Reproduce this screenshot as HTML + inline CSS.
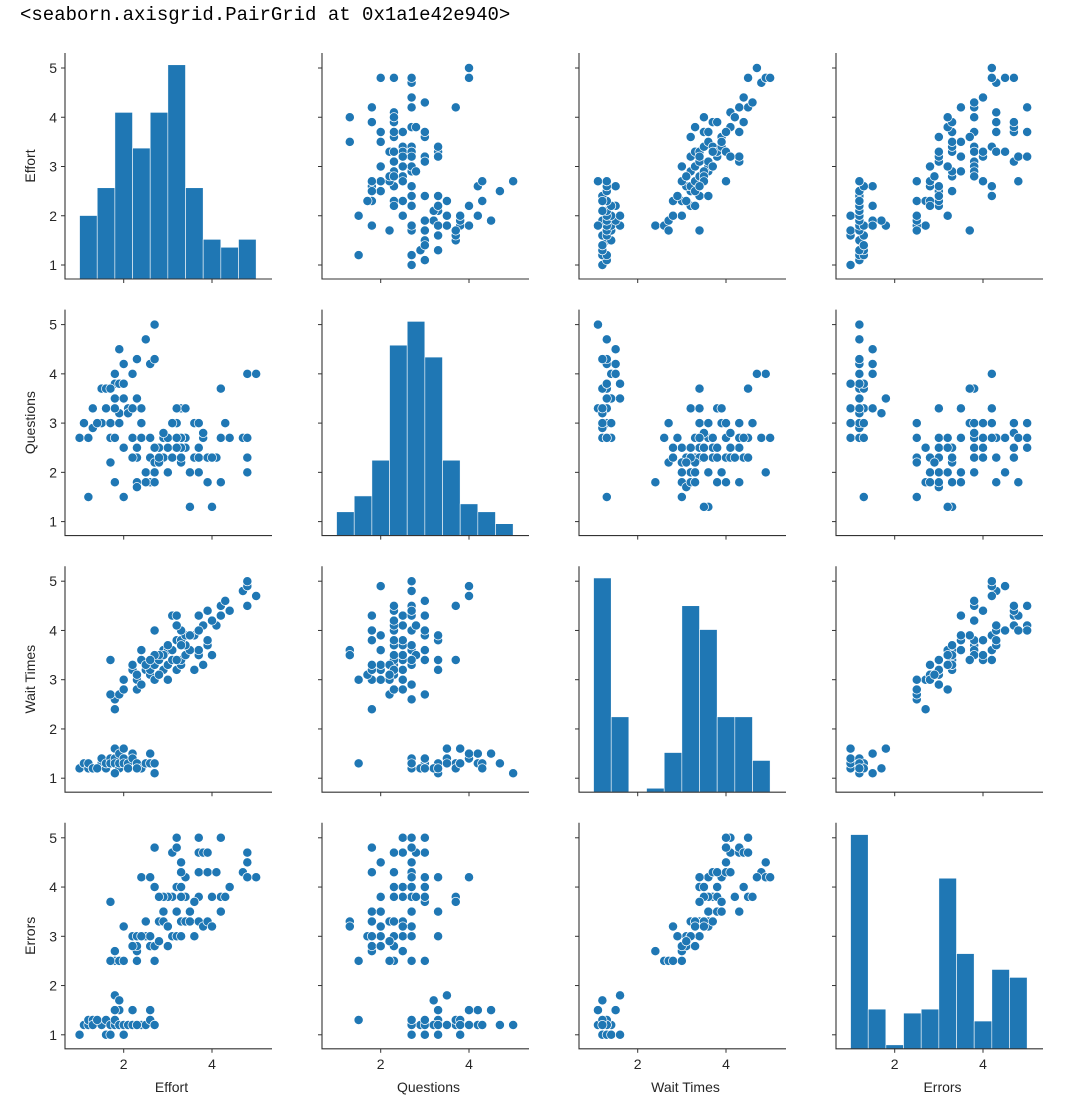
<!DOCTYPE html>
<html><head><meta charset="utf-8">
<style>
body{margin:0;background:#fff;width:1068px;height:1100px;overflow:hidden}
#repr{position:absolute;left:20px;top:4px;font-family:"Liberation Mono",monospace;font-size:19px;color:#000}
svg{position:absolute;left:0;top:0}
text{font-family:"Liberation Sans",sans-serif;fill:#262626}
</style></head><body>
<div id="repr">&lt;seaborn.axisgrid.PairGrid at 0x1a1e42e940&gt;</div>
<svg id="chart" width="1068" height="1100"></svg>
<script>
const variables = ["Effort","Questions","Wait Times","Errors"];
const xTicks = [2,4];
const yTicks = [1,2,3,4,5];
const binEdges = [1,1.4,1.8,2.2,2.6,3.0,3.4,3.8,4.2,4.6,5.0];
const histEffort = [16,23,42,33,42,54,23,10,8,10];
const histQuestions = [6,10,19,48,54,45,19,8,6,3];
const histWait = [54,19,0,1,10,47,41,19,19,8];
const histErrors = [54,10,1,9,10,43,24,7,20,18];
const lowClusterRows = [
[1.0,2.7,1.2,1.0],[1.1,3.0,1.3,1.2],[1.2,2.7,1.2,1.2],[1.2,1.5,1.3,1.3],[1.3,3.3,1.2,1.3],
[1.3,2.9,1.2,1.2],[1.5,3.7,1.3,1.2],[1.5,3.0,1.4,1.2],[1.6,3.7,1.2,1.3],[1.6,3.3,1.3,1.0],
[1.7,3.0,1.4,1.0],[1.7,2.7,1.3,1.2],[1.8,3.5,1.6,1.8],[1.8,4.0,1.4,1.2],[1.8,3.8,1.3,1.3],
[1.9,3.2,1.2,1.7],[1.9,4.5,1.5,1.5],[1.9,3.8,1.3,1.2],[1.8,3.3,1.1,1.5],[2.0,3.8,1.6,1.0],
[2.0,3.5,1.4,1.2],[2.0,4.2,1.3,1.2],[2.1,3.3,1.3,1.2],[2.1,3.2,1.2,1.2],[2.2,4.0,1.5,1.5],
[2.2,2.7,1.4,1.2],[2.3,3.5,1.3,1.2],[2.4,3.3,1.2,1.2],[2.5,4.7,1.3,1.2],[2.6,4.2,1.5,1.5],
[2.6,2.7,1.3,1.3],[2.7,5.0,1.1,1.2],[2.7,4.3,1.3,1.2],[1.4,3.0,1.2,1.3],[2.3,4.3,1.2,1.2]];
const highClusterRows = [
[1.8,1.8,2.4,2.7],[1.8,2.7,2.6,2.5],[1.7,2.2,2.7,2.5],[1.9,3.0,2.7,2.5],[2.0,1.5,3.0,2.5],
[2.3,2.3,2.8,2.5],[2.3,2.5,3.0,2.7],[2.3,1.8,3.0,2.8],[2.2,3.3,3.2,3.0],[2.2,2.3,3.3,2.8],
[2.3,1.7,3.1,3.0],[2.4,2.7,3.4,3.0],[2.5,2.0,3.2,3.0],[2.6,2.3,3.1,2.8],[2.6,1.8,3.2,3.0],
[2.7,2.2,3.0,2.5],[2.7,2.0,3.3,2.8],[2.8,2.5,3.4,3.3],[2.9,2.7,3.6,3.5],[2.9,2.3,3.2,3.3],
[3.0,2.0,3.0,2.8],[3.0,2.7,3.3,3.2],[3.1,2.3,3.4,3.0],[3.2,2.5,3.2,3.0],[3.3,2.2,3.3,3.3],
[3.3,3.3,3.4,3.0],[3.4,2.5,3.5,3.3],[3.5,1.3,3.6,3.3],[2.4,2.7,2.9,3.0],[3.6,2.3,3.2,3.0],
[3.0,2.0,3.6,3.2],[2.5,1.8,3.3,3.3],[2.8,2.2,3.1,2.9],[3.2,3.3,3.8,3.5],[3.7,2.5,3.5,3.3],
[3.8,2.7,3.3,3.2],[3.9,2.3,3.7,3.3],[4.0,1.3,3.5,3.2],[3.4,2.7,3.7,3.8],[3.1,3.0,3.6,3.8],
[3.0,2.5,3.7,3.8],[2.9,2.8,3.5,3.8],[3.3,2.5,3.8,3.8],[3.2,3.0,3.4,4.0],[3.7,2.0,3.6,3.8],
[2.8,2.3,3.5,3.8],[3.6,3.0,3.9,3.7],[3.3,2.3,3.8,4.0],[2.7,2.5,3.5,4.0],[2.4,3.0,3.6,4.2],
[2.6,2.7,3.4,4.2],[3.4,3.3,3.9,4.2],[3.3,2.7,3.7,4.3],[3.7,2.3,4.0,4.3],[3.9,1.8,3.8,4.3],
[4.1,2.3,4.1,4.3],[3.3,2.7,4.0,4.5],[3.7,2.5,4.3,4.7],[3.8,2.8,4.1,4.7],[3.1,3.0,4.3,4.7],
[3.2,2.7,4.3,4.8],[3.2,2.5,4.1,5.0],[3.7,3.0,4.0,5.0],[2.7,1.8,4.0,4.8],[4.2,2.7,4.5,5.0],
[3.9,2.3,4.4,4.7],[4.2,3.7,4.5,3.8],[4.3,3.0,4.6,3.8],[4.4,2.7,4.4,4.0],[4.2,1.8,4.3,3.5],
[4.7,2.7,4.8,4.3],[4.8,2.0,4.9,4.5],[4.8,2.3,4.5,4.7],[4.8,4.0,4.9,4.2],[5.0,4.0,4.7,4.2],
[4.8,2.7,5.0,4.2],[4.0,2.3,4.2,3.8],[3.5,2.0,3.9,3.5],[2.0,2.5,2.8,3.2],[1.7,3.7,3.4,3.7]];

const histograms = [histEffort,histQuestions,histWait,histErrors];
const rows = lowClusterRows.concat(highClusterRows);
const NS = "http://www.w3.org/2000/svg";
const svg = document.getElementById("chart");
const COLW = 257, ROWH = 256.6;
const PXX = 44.15, PXY = 49.25;
function xPx(c, v){ return 123.7 + c*COLW + PXX*(v-2); }
function yPx(r, v){ return 68 + r*ROWH + PXY*(5-v); }
function axLeft(c){ return 65 + c*COLW; }
function axRight(c){ return 272 + c*COLW; }
function axTop(r){ return 53 + r*ROWH; }
function axBottom(r){ return 279 + r*ROWH; }
function mk(tag, attrs, parent){
  const e = document.createElementNS(NS, tag);
  for (const k in attrs) e.setAttribute(k, attrs[k]);
  (parent||svg).appendChild(e);
  return e;
}
for (let r=0;r<4;r++){
  for (let c=0;c<4;c++){
    const g = mk("g",{});
    
    
    if (r===c){
      const counts = histograms[r];
      const maxC = Math.max(...counts);
      const hMax = 4.35*PXY;
      for (let i=0;i<counts.length;i++){
        if (counts[i]===0) continue;
        const x0 = xPx(c, binEdges[i]), x1 = xPx(c, binEdges[i+1]);
        const h = counts[i]/maxC*hMax;
        const b = mk("rect",{x:x0,y:axBottom(r)-h,width:x1-x0,height:h,fill:"#1f77b4",stroke:"#ffffff","stroke-width":0.6},g);
        
        
      }
    } else {
      for (const row of rows){
        const p = mk("circle",{cx:xPx(c,row[c]),cy:yPx(r,row[r]),r:4.6,fill:"#1f77b4",stroke:"#ffffff","stroke-width":0.7},g);
        
        
      }
    }
    const sp = mk("path",{d:`M${axLeft(c)},${axTop(r)} V${axBottom(r)} H${axRight(c)}`,fill:"none",stroke:"#333",
      "stroke-width":1.1},g);
    
    
    for (const t of xTicks){
      const x = xPx(c,t);
      mk("line",{x1:x,x2:x,y1:axBottom(r),y2:axBottom(r)+4,stroke:"#333","stroke-width":1},g);
      if (r===3){
        const tl = mk("text",{x:x,y:axBottom(r)+20,"text-anchor":"middle","font-size":"14px"},g);
        tl.textContent = t;
        
        
      }
    }
    for (const t of yTicks){
      const y = yPx(r,t);
      mk("line",{x1:axLeft(c)-4,x2:axLeft(c),y1:y,y2:y,stroke:"#333","stroke-width":1},g);
      if (c===0){
        const tl = mk("text",{x:axLeft(c)-8,y:y+5,"text-anchor":"end","font-size":"14px"},g);
        tl.textContent = t;
        
        
      }
    }
  }
}
for (let i=0;i<4;i++){
  const cx = (axLeft(i)+axRight(i))/2;
  const xl = mk("text",{x:cx+3,y:1092,"text-anchor":"middle","font-size":"14px"});
  xl.textContent = variables[i];
  
  
  const cy = (axTop(i)+axBottom(i))/2;
  const yl = mk("text",{x:0,y:0,"text-anchor":"middle","font-size":"14px",transform:`translate(35,${cy}) rotate(-90)`});
  yl.textContent = variables[i];
  
  
}
</script>
</body></html>
